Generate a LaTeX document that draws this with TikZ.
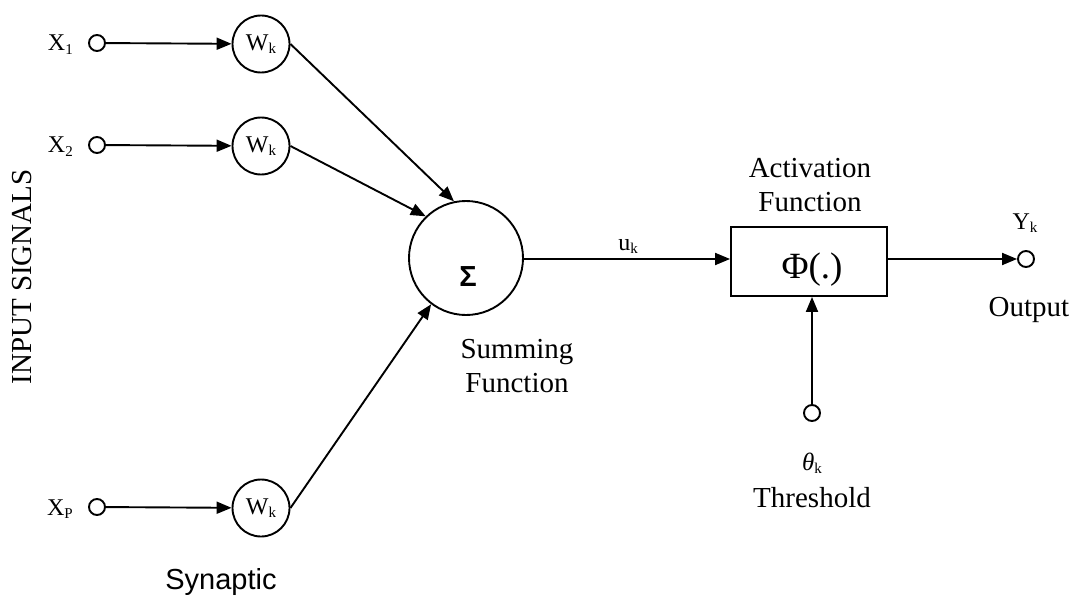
\documentclass[tikz,border=0pt]{standalone}
\usepackage{fontspec}
\setmainfont{Liberation Serif}
\newfontfamily\sansf{Liberation Sans}
\usetikzlibrary{arrows.meta}
\newcommand\lblsub[1]{\raisebox{-0.3ex}{\fontsize{15}{15}\selectfont #1}}
\newcommand\bigtxt{\fontsize{29}{34}\selectfont}
\newcommand\smalltxt{\fontsize{24}{26}\selectfont}
\tikzset{
  wire/.style={line width=1.9pt},
  arrowwire/.style={wire, -{Triangle[length=15pt,width=12pt]}},
  port/.style={circle, draw, line width=1.9pt, minimum size=16pt, inner sep=0pt},
  weight/.style={circle, draw, line width=1.9pt, minimum size=57pt, inner sep=0pt},
  summer/.style={circle, draw, line width=1.9pt, minimum size=114pt, inner sep=0pt},
  actbox/.style={rectangle, draw, line width=1.9pt, minimum width=156pt, minimum height=69pt, inner sep=0pt},
  txt/.style={inner sep=0pt, anchor=base, align=center},
  bigtext/.style={txt, font=\bigtxt},
  smalltext/.style={txt, font=\smalltxt},
}
\begin{document}
\begin{tikzpicture}[x=1pt, y=-1pt]
\useasboundingbox (0,0) rectangle (1081,599);

% input ports and their labels
\node[port] (x1) at (97,43) {};
\node[port] (x2) at (97,145) {};
\node[port] (xp) at (97,507) {};
\node[smalltext, anchor=base east] (lx1) at (73,51) {X\lblsub{1}};
\node[smalltext, anchor=base east] (lx2) at (73,153) {X\lblsub{2}};
\node[smalltext, anchor=base east] (lxp) at (73,515) {X\lblsub{P}};

% synaptic weights
\node[weight, font=\smalltxt] (w1) at (261,44) {W\lblsub{k}};
\node[weight, font=\smalltxt] (w2) at (261,146) {W\lblsub{k}};
\node[weight, font=\smalltxt] (wp) at (261,508) {W\lblsub{k}};

% summing junction
\node[summer] (sum) at (466,258) {};
\node[inner sep=0pt, font=\sansf\bfseries\fontsize{29}{29}\selectfont] (sigma) at (468,277) {Σ};

% activation block
\node[actbox] (act) at (809,261.5) {};
\node[inner sep=0pt, font=\fontsize{37}{37}\selectfont] (phi) at (812,270) {Φ(.)};

% output and threshold ports
\node[port] (out) at (1026,259) {};
\node[port] (thr) at (812,413) {};

% connectors
\draw[arrowwire] (x1) -- (w1);
\draw[arrowwire] (x2) -- (w2);
\draw[arrowwire] (xp) -- (wp);
\draw[arrowwire] (w1.east) -- (sum.102);
\draw[arrowwire] (w2.east) -- (sum.134);
\draw[arrowwire] (wp.east) -- (sum.233);
\draw[arrowwire] (sum.east |- 0,259) coordinate (sumout) -- (act.west |- sumout);
\draw[arrowwire] (act.east |- 0,259) coordinate (actout) -- (out.west);
\draw[arrowwire] (thr.north) -- (act.south -| thr);

% labels (two-line labels sit on the baseline of their last line)
\node[smalltext] (uk) at (628,250) {u\lblsub{k}};
\node[smalltext] (yk) at (1025,229) {Y\lblsub{k}};
\node[txt, font=\fontsize{25}{25}\selectfont\itshape] (tk) at (812,470) {θ\lblsub{\upshape k}};
\node[bigtext] (lact) at (810,211) {Activation\\Function};
\node[bigtext] (lsum) at (517,392) {Summing\\Function};
\node[bigtext] (lout) at (1029,316) {Output};
\node[bigtext] (lthr) at (812,507) {Threshold};
\node[txt, font=\sansf\fontsize{29}{34}\selectfont] (lsyn) at (221,589) {Synaptic};
\node[bigtext, rotate=90, anchor=center] (lin) at (22,277) {INPUT SIGNALS};
\end{tikzpicture}
\end{document}
